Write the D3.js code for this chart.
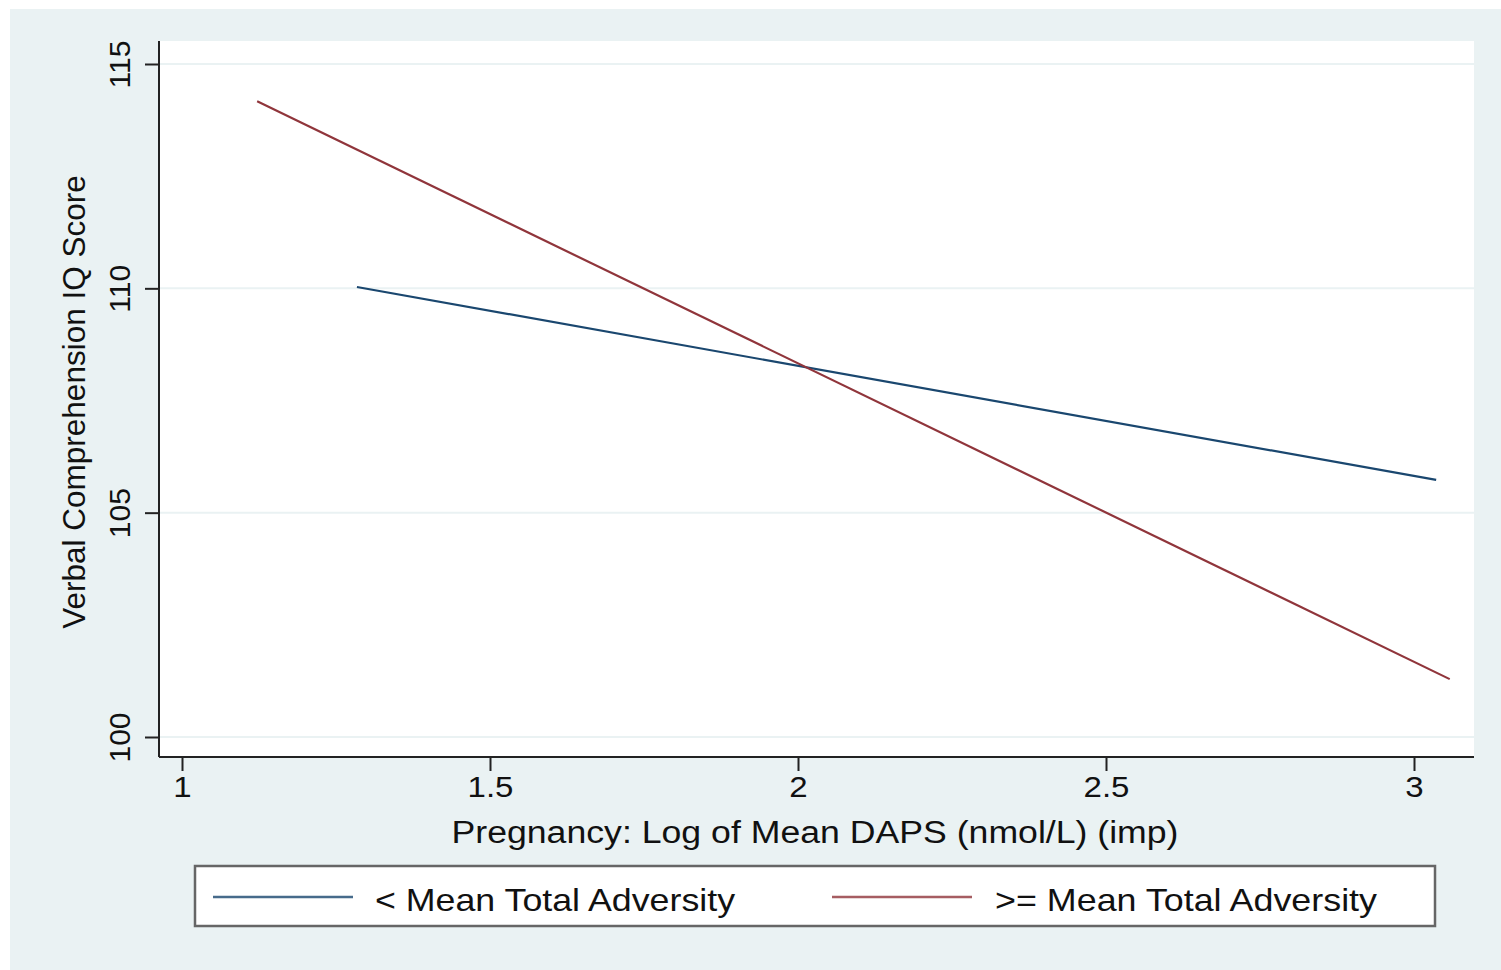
<!DOCTYPE html>
<html>
<head>
<meta charset="utf-8">
<script src="https://cdn.jsdelivr.net/npm/d3@7"></script>
<style>
  html, body { margin: 0; padding: 0; background: #ffffff; }
  svg { display: block; font-family: "Liberation Sans", Arial, Helvetica, sans-serif; }
</style>
</head>
<body>
<div id="chart"></div>
<script>
// Podatki (odčitani s slike)
const seriesNames = ["< Mean Total Adversity", ">= Mean Total Adversity"];
const lowX = [1.284, 3.036];
const lowY = [110.03, 105.73];
const highX = [1.122, 3.058];
const highY = [114.17, 101.29];
const xTicks = [1, 1.5, 2, 2.5, 3];
const yTicks = [100, 105, 110, 115];
const xTitle = "Pregnancy: Log of Mean DAPS (nmol/L) (imp)";
const yTitle = "Verbal Comprehension IQ Score";

const width = 1501;
const height = 970;
const plot = { left: 159, right: 1474, top: 41, bottom: 757 };

const svg = d3.select("#chart")
    .append("svg")
    .attr("width", width)
    .attr("height", height);

// Ozadje grafa
svg.append("rect")
    .attr("x", 10).attr("y", 9)
    .attr("width", width - 10).attr("height", height - 9)
    .attr("fill", "#eaf2f3");

svg.append("rect")
    .attr("x", plot.left).attr("y", plot.top)
    .attr("width", plot.right - plot.left).attr("height", plot.bottom - plot.top)
    .attr("fill", "#ffffff");

// Lestvici
const xScale = d3.scaleLinear().domain([1, 3]).range([182, 1414]);
const yScale = d3.scaleLinear().domain([100, 115]).range([737, 64]);

// Mrežne črte
svg.append("g")
    .selectAll("line")
    .data(yTicks)
    .enter()
    .append("line")
    .attr("x1", plot.left).attr("x2", plot.right)
    .attr("y1", d => yScale(d)).attr("y2", d => yScale(d))
    .attr("stroke", "#eaf2f3")
    .attr("stroke-width", 2);

// Osi
const xAxis = svg.append("g")
    .attr("transform", `translate(0,${plot.bottom})`)
    .call(d3.axisBottom(xScale).tickValues(xTicks).tickSize(14).tickPadding(5).tickFormat(d3.format("")));
xAxis.select(".domain").attr("d", `M${plot.left},0H${plot.right}`).attr("stroke", "#222").attr("stroke-width", 2);
xAxis.selectAll(".tick line").attr("stroke", "#222").attr("stroke-width", 2);
xAxis.selectAll("text")
    .attr("transform", "scale(1.1,1)")
    .attr("font-size", 30)
    .attr("fill", "#111")
    .attr("font-family", "'Liberation Sans', Arial, sans-serif");

const yAxis = svg.append("g")
    .attr("transform", `translate(${plot.left},0)`)
    .call(d3.axisLeft(yScale).tickValues(yTicks).tickSize(14).tickFormat(d3.format("")));
yAxis.select(".domain").attr("d", `M0,${plot.top}V${plot.bottom}`).attr("stroke", "#222").attr("stroke-width", 2);
yAxis.selectAll(".tick line").attr("stroke", "#222").attr("stroke-width", 2);
yAxis.selectAll("text")
    .attr("x", null).attr("dy", null)
    .attr("transform", "translate(-29,0) rotate(-90)")
    .attr("text-anchor", "middle")
    .attr("font-size", 30)
    .attr("fill", "#111")
    .attr("font-family", "'Liberation Sans', Arial, sans-serif");

// Naslova osi
svg.append("text")
    .attr("x", 815).attr("y", 843)
    .attr("text-anchor", "middle")
    .attr("font-size", 31)
    .attr("textLength", 727)
    .attr("lengthAdjust", "spacingAndGlyphs")
    .attr("fill", "#111")
    .text(xTitle);

svg.append("text")
    .attr("transform", "translate(85,402) rotate(-90)")
    .attr("text-anchor", "middle")
    .attr("font-size", 31.5)
    .attr("fill", "#111")
    .text(yTitle);

// Črte
const line = d3.line().x(d => xScale(d[0])).y(d => yScale(d[1]));
const series = [
    { name: seriesNames[0], color: "#1a476f", pts: d3.zip(lowX, lowY), len: 360 },
    { name: seriesNames[1], color: "#90353b", pts: d3.zip(highX, highY), len: 382 }
];

svg.selectAll(".serie")
    .data(series)
    .enter()
    .append("path")
    .attr("class", "serie")
    .attr("d", d => line(d.pts))
    .attr("fill", "none")
    .attr("stroke", d => d.color)
    .attr("stroke-width", 2.2);

// Legenda
svg.append("rect")
    .attr("x", 195).attr("y", 866)
    .attr("width", 1240).attr("height", 60)
    .attr("fill", "#ffffff")
    .attr("stroke", "#666")
    .attr("stroke-width", 2.5);

const legendX = [213, 832];
const legend = svg.selectAll(".legend")
    .data(series)
    .enter()
    .append("g")
    .attr("class", "legend")
    .attr("transform", (d, i) => `translate(${legendX[i]},897)`);

legend.append("line")
    .attr("x1", 0).attr("x2", 140)
    .attr("stroke", d => d.color)
    .attr("stroke-width", 2.5)
    .attr("opacity", 0.8);

legend.append("text")
    .attr("x", (d, i) => i === 0 ? 162 : 163)
    .attr("y", 14)
    .attr("font-size", 32)
    .attr("textLength", d => d.len)
    .attr("lengthAdjust", "spacingAndGlyphs")
    .attr("fill", "#111")
    .text(d => d.name);
</script>
</body>
</html>
